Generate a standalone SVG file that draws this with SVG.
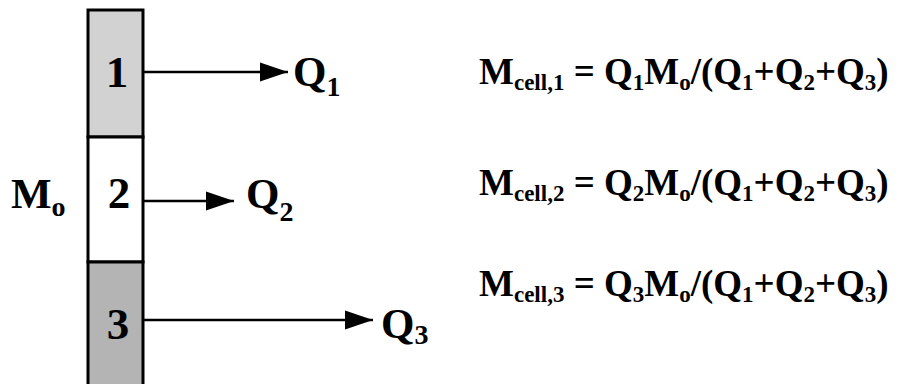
<svg xmlns="http://www.w3.org/2000/svg" width="901" height="384" viewBox="0 0 901 384">
<style>
text{font-family:"Liberation Serif","Times New Roman",serif;font-weight:bold;fill:#000}
.dig{font-size:45px}
.big{font-size:43px}
.eq{font-size:37px}
.s{font-size:23px}
.ss{font-size:28px}
.box{stroke:#000;stroke-width:3}
.conn{stroke:#000;stroke-width:2.5;fill:none}
</style>
<defs>
<marker id="ah" markerUnits="userSpaceOnUse" markerWidth="28" markerHeight="22" refX="28" refY="11" orient="auto">
<path d="M0,1.5 L28,11 L0,20.5 Z" fill="#000"/>
</marker>
</defs>
<rect width="901" height="384" fill="#fff"/>
<g id="cell1">
<rect class="box" x="88" y="10" width="55" height="127" fill="#d2d2d2"/>
<text class="dig" x="117" y="87" text-anchor="middle">1</text>
</g>
<g id="cell2">
<rect class="box" x="88" y="137" width="55" height="125" fill="#ffffff"/>
<text class="dig" x="119" y="208" text-anchor="middle">2</text>
</g>
<g id="cell3">
<rect class="box" x="88" y="262" width="55" height="130" fill="#b4b4b4"/>
<text class="dig" x="118" y="339" text-anchor="middle">3</text>
</g>
<g id="mo">
<text class="big" x="11" y="208">M<tspan class="ss" dy="8">o</tspan></text>
</g>
<g id="q1">
<text class="big" x="293" y="86">Q<tspan class="ss" dy="10">1</tspan></text>
</g>
<g id="q2">
<text class="big" x="246" y="208">Q<tspan class="ss" dy="13">2</tspan></text>
</g>
<g id="q3">
<text class="big" x="381" y="338">Q<tspan class="ss" dy="6">3</tspan></text>
</g>
<g id="connectors">
<line class="conn" x1="143" y1="72" x2="288" y2="72" marker-end="url(#ah)"/>
<line class="conn" x1="143" y1="201" x2="234" y2="201" marker-end="url(#ah)"/>
<line class="conn" x1="143" y1="320" x2="373" y2="320" marker-end="url(#ah)"/>
</g>
<g id="eq1">
<text class="eq" x="479" y="84">M<tspan class="s" dy="6">cell,1</tspan><tspan dy="-6"> = Q</tspan><tspan class="s" dy="6">1</tspan><tspan dy="-6">M</tspan><tspan class="s" dy="6">o</tspan><tspan dy="-6">/(Q</tspan><tspan class="s" dy="6">1</tspan><tspan dy="-6">+Q</tspan><tspan class="s" dy="6">2</tspan><tspan dy="-6">+Q</tspan><tspan class="s" dy="6">3</tspan><tspan dy="-6">)</tspan></text>
</g>
<g id="eq2">
<text class="eq" x="479" y="195">M<tspan class="s" dy="6">cell,2</tspan><tspan dy="-6"> = Q</tspan><tspan class="s" dy="6">2</tspan><tspan dy="-6">M</tspan><tspan class="s" dy="6">o</tspan><tspan dy="-6">/(Q</tspan><tspan class="s" dy="6">1</tspan><tspan dy="-6">+Q</tspan><tspan class="s" dy="6">2</tspan><tspan dy="-6">+Q</tspan><tspan class="s" dy="6">3</tspan><tspan dy="-6">)</tspan></text>
</g>
<g id="eq3">
<text class="eq" x="479" y="296">M<tspan class="s" dy="6">cell,3</tspan><tspan dy="-6"> = Q</tspan><tspan class="s" dy="6">3</tspan><tspan dy="-6">M</tspan><tspan class="s" dy="6">o</tspan><tspan dy="-6">/(Q</tspan><tspan class="s" dy="6">1</tspan><tspan dy="-6">+Q</tspan><tspan class="s" dy="6">2</tspan><tspan dy="-6">+Q</tspan><tspan class="s" dy="6">3</tspan><tspan dy="-6">)</tspan></text>
</g>
</svg>
